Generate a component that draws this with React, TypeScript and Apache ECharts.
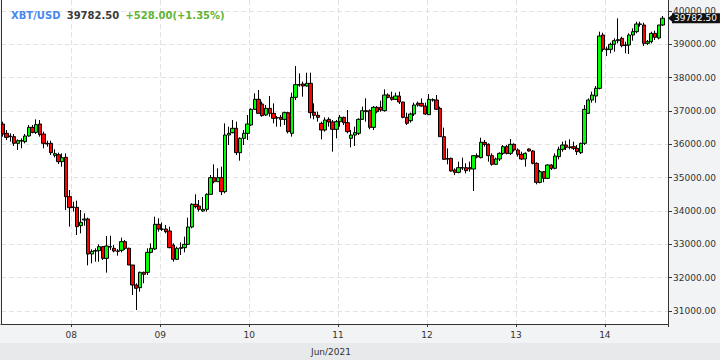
import React, { useEffect, useRef } from 'react';
import * as echarts from 'echarts';

// hourly candles starting 2021-06-07 05:00 (UTC)
const START_MS = Date.UTC(2021, 5, 7, 5);
const CATEGORY_COUNT = 180;

const opens = [
  36610, 36330, 36250, 36230, 36030, 36110, 36080, 36250, 36510, 36360,
  36610, 36310, 36030, 36030, 35670, 35690, 35480, 35610, 34430, 34120,
  34110, 33560, 33730, 33760, 32710, 32800, 32810, 32930, 32580, 32930,
  32880, 32800, 32820, 33080, 32880, 32380, 31780, 31700, 32160, 32160,
  32760, 32860, 33600, 33460, 33460, 33400, 32980, 32550, 32880, 32900,
  33000, 33520, 34200, 34150, 34000, 34050, 34500, 35000, 34880, 35000,
  34580, 36280, 36350, 36480, 35750, 36180, 36330, 36580, 37050, 37350,
  37210, 36880, 37080, 36930, 36790, 36810, 36750, 36950, 36330, 37410,
  37790, 37810, 37750, 37830, 36960, 36870, 36630, 36430, 36750, 36670,
  36450, 36680, 36810, 36650, 36180, 36280, 36330, 36750, 37010, 37010,
  36510, 37110, 37110, 37010, 37480, 37410, 37350, 37450, 37270, 36810,
  36710, 36910, 37230, 37230, 37150, 36890, 37330, 37330, 37080, 36230,
  35560, 35580, 35230, 35160, 35300, 35300, 35300, 35260, 35660, 35600,
  36060, 36000, 35660, 35400, 35560, 35730, 35930, 35730, 36000, 35830,
  35700, 35560, 35860, 35800, 35430, 34860, 35180, 34980, 35380, 35280,
  35630, 35850, 35980, 35910, 35930, 35880, 35750, 36030, 36930, 37330,
  37450, 37680, 39280, 38860, 38850, 39000, 39110, 39180, 38970, 38980,
  39280, 39380, 39610, 39580, 39030, 39080, 39330, 39190, 39580,
];
const closes = [
  36310, 36210, 36230, 36030, 36110, 36100, 36250, 36510, 36360, 36590,
  36290, 36030, 36010, 35750, 35720, 35480, 35600, 34430, 34100, 34110,
  33530, 33660, 33760, 32710, 32790, 32810, 32930, 32580, 32950, 32920,
  32800, 32790, 33080, 32880, 32380, 31780, 31680, 32160, 32100, 32760,
  32880, 33600, 33460, 33450, 33380, 32900, 32550, 32880, 32900, 33000,
  33520, 34200, 34130, 34050, 34050, 34500, 35000, 34880, 35000, 34580,
  36280, 36330, 36480, 35750, 36180, 36330, 36610, 37050, 37350, 36930,
  36860, 37080, 36930, 36780, 36800, 36750, 36950, 36380, 37410, 37790,
  37780, 37750, 37830, 36950, 36870, 36810, 36430, 36730, 36670, 36450,
  36680, 36810, 36650, 36380, 36280, 36350, 36750, 37010, 36980, 36510,
  37110, 36980, 37030, 37480, 37410, 37350, 37450, 37270, 36810, 36630,
  36910, 37180, 37180, 37150, 36910, 37350, 37340, 37050, 36230, 35550,
  35570, 35200, 35160, 35300, 35290, 35210, 35260, 35660, 35620, 36060,
  36000, 35660, 35400, 35560, 35730, 35930, 35730, 36000, 35830, 35700,
  35560, 35730, 35800, 35430, 34860, 35180, 34980, 35380, 35280, 35650,
  35850, 35980, 35910, 35920, 35880, 35780, 36030, 37050, 37330, 37480,
  37680, 39250, 38850, 38840, 39000, 39110, 39140, 38960, 38980, 39280,
  39380, 39610, 39600, 39030, 39080, 39330, 39210, 39580, 39782.5,
];
const lows = [
  36230, 36130, 36080, 35950, 35830, 35880, 36030, 36230, 36330, 36310,
  36230, 35880, 35930, 35680, 35610, 35410, 35330, 34030, 33530, 33980,
  33280, 33330, 33560, 32370, 32430, 32480, 32480, 32530, 32150, 32830,
  32760, 32660, 32760, 32830, 32380, 31480, 31030, 31580, 31830, 32080,
  32730, 32830, 33380, 33400, 33330, 32880, 32480, 32530, 32680, 32760,
  32980, 33480, 34080, 33980, 33980, 33980, 34500, 34830, 34880, 34480,
  34530, 35980, 36330, 35680, 35510, 35980, 36130, 36550, 37030, 36930,
  36830, 36850, 36830, 36630, 36530, 36530, 36580, 36330, 36230, 37330,
  37730, 37430, 37730, 36780, 36750, 36680, 36150, 36380, 36530, 35780,
  36180, 36530, 36580, 36330, 35910, 35950, 36280, 36730, 36680, 36450,
  36430, 36930, 36980, 36980, 37380, 37310, 37330, 37210, 36780, 36580,
  36650, 36850, 37130, 37130, 36880, 36880, 37280, 37030, 36230, 35530,
  35400, 35180, 35080, 35130, 35230, 35130, 35180, 34600, 35580, 35580,
  35930, 35480, 35360, 35380, 35500, 35680, 35700, 35680, 35780, 35630,
  35530, 35330, 35780, 35400, 34800, 34830, 34860, 34960, 35230, 35250,
  35550, 35780, 35830, 35850, 35830, 35680, 35710, 35980, 36910, 37250,
  37250, 37650, 38780, 38650, 38730, 38780, 39030, 38910, 38730, 38710,
  39110, 39330, 39530, 38950, 38980, 39030, 39130, 39150, 39550,
];
const highs = [
  36680, 36430, 36330, 36310, 36150, 36180, 36310, 36580, 36580, 36750,
  36730, 36380, 36110, 36110, 35850, 35750, 35730, 35730, 34630, 34280,
  34310, 34030, 33930, 33800, 32850, 32880, 33000, 32950, 33250, 33260,
  32980, 32860, 33200, 33130, 32900, 32380, 31830, 32180, 32180, 32880,
  33030, 33830, 33780, 33660, 33580, 33530, 33030, 32930, 33060, 33230,
  33800, 34230, 34500, 34330, 34420, 34530, 35080, 35400, 35280, 35330,
  36630, 36530, 36730, 36680, 36210, 36430, 36880, 37080, 37530, 37630,
  37280, 37180, 37450, 37230, 36850, 36880, 36980, 36980, 37550, 38350,
  38130, 37880, 38150, 38150, 37230, 36980, 36680, 36810, 36810, 36730,
  36730, 36880, 36830, 37030, 36430, 36530, 36780, 37130, 37380, 37050,
  37150, 37150, 37310, 37650, 37530, 37580, 37550, 37580, 37280, 36950,
  36950, 37250, 37280, 37380, 37250, 37510, 37380, 37480, 37130, 36500,
  35880, 35600, 35280, 35480, 35600, 35430, 35480, 35680, 35730, 36200,
  36130, 36030, 35730, 35600, 35760, 35980, 35980, 36160, 36030, 35880,
  35780, 35760, 35880, 35830, 35460, 35230, 35200, 35400, 35400, 35730,
  35930, 36080, 36110, 36150, 36080, 35980, 36050, 37180, 37380, 37580,
  37750, 39380, 39350, 38930, 39050, 39180, 39780, 39230, 39080, 39330,
  39480, 39680, 39680, 39650, 39130, 39380, 39410, 39580, 39850,
];

const SYMBOL = 'XBT/USD';
const LAST_PRICE = '39782.50';
const CHANGE_TEXT = '+528.00(+1.35%)';
const MONTH_LABEL = 'Jun/2021';

const Y_MIN = 30610;
const Y_MAX = 40330;

const pad2 = (n: number) => (n < 10 ? '0' + n : '' + n);
const categories = Array.from({ length: CATEGORY_COUNT }, (_, i) => {
  const d = new Date(START_MS + i * 3600000);
  return `${pad2(d.getUTCDate())} ${pad2(d.getUTCHours())}:00`;
});
const isMidnight = (idx: number) => !!categories[idx] && categories[idx].endsWith(' 00:00');

const FONT = 'DejaVu Sans';

export default function App() {
  const ref = useRef<HTMLDivElement>(null);
  useEffect(() => {
    if (!ref.current) return;
    const chart = echarts.init(ref.current, undefined, { renderer: 'svg' });
    const candles = opens.map((o, i) => [o, closes[i], lows[i], highs[i]]);
    const lastClose = closes[closes.length - 1];
    chart.setOption({
      animation: false,
      backgroundColor: '#f2f3f5',
      textStyle: { fontFamily: FONT },
      title: {
        left: 11,
        top: 6,
        padding: 0,
        text: `{a|${SYMBOL}} {b|${LAST_PRICE}} {c|${CHANGE_TEXT}}`,
        textStyle: {
          rich: {
            a: { color: '#4a88ee', fontSize: 10, fontWeight: 'bold', fontFamily: FONT },
            b: { color: '#3a3a3a', fontSize: 10, fontWeight: 'bold', fontFamily: FONT },
            c: { color: '#5fb336', fontSize: 10, fontWeight: 'bold', fontFamily: FONT },
          },
        },
      },
      grid: {
        left: 1,
        right: 52,
        top: 0,
        bottom: 36,
        show: true,
        backgroundColor: '#ffffff',
        borderWidth: 0,
      },
      graphic: [
        {
          type: 'rect',
          left: 0,
          top: 343,
          shape: { width: 720, height: 17 },
          style: { fill: '#e8e9eb' },
          silent: true,
        },
        {
          type: 'text',
          x: 331,
          y: 352,
          style: {
            text: MONTH_LABEL,
            font: `9px "${FONT}"`,
            fill: '#333',
            textAlign: 'center',
            textVerticalAlign: 'middle',
          },
          silent: true,
        },
      ],
      xAxis: {
        type: 'category',
        data: categories,
        boundaryGap: true,
        axisLine: { show: true, lineStyle: { color: '#333', width: 1 } },
        axisTick: {
          show: true,
          interval: (i: number) => isMidnight(i),
          length: 3,
          lineStyle: { color: '#333' },
        },
        axisLabel: {
          interval: (i: number) => isMidnight(i),
          formatter: (v: string) => v.slice(0, 2),
          color: '#333',
          fontSize: 9,
          fontFamily: FONT,
          margin: 6,
          padding: [0, 4, 0, 0],
        },
        splitLine: {
          show: true,
          interval: (i: number) => isMidnight(i),
          lineStyle: { color: '#e2e2e2', type: [5, 3], width: 1 },
        },
      },
      yAxis: [
        {
          type: 'value',
          position: 'right',
          min: Y_MIN,
          max: Y_MAX,
          splitNumber: 9,
          minInterval: 1000,
          maxInterval: 1000,
          axisLine: { show: true, lineStyle: { color: '#333', width: 1 } },
          axisTick: { show: true, length: 4, lineStyle: { color: '#333' } },
          axisLabel: {
            formatter: (v: number) => v.toFixed(2),
            color: '#333',
            fontSize: 9,
            fontFamily: FONT,
            margin: 5,
            showMinLabel: false,
            showMaxLabel: false,
          },
          splitLine: {
            show: true,
            showMinLine: false,
            showMaxLine: false,
            lineStyle: { color: '#e2e2e2', type: [5, 3], width: 1 },
          },
        },
        {
          type: 'value',
          position: 'left',
          min: Y_MIN,
          max: Y_MAX,
          axisLine: { show: true, lineStyle: { color: '#333', width: 1 } },
          axisTick: { show: false },
          axisLabel: { show: false },
          splitLine: { show: false },
        },
      ],
      series: [
        {
          type: 'candlestick',
          data: candles,
          barWidth: 3.8,
          clip: false,
          z: 5,
          itemStyle: {
            color: '#00ff00',
            color0: '#ff0000',
            borderColor: '#000',
            borderColor0: '#000',
            borderColorDoji: '#000',
            borderWidth: 1,
          },
          markLine: {
            silent: true,
            z: 10,
            symbol: ['none', 'triangle'],
            symbolSize: [10, 6],
            symbolRotate: [0, 90],
            symbolOffset: [0, [0, 3]],
            lineStyle: { color: '#111', width: 0, opacity: 1, type: 'solid' },
            data: [{ yAxis: lastClose }],
            label: {
              show: true,
              position: 'end',
              distance: 4,
              formatter: (p: any) => Number(p.value).toFixed(2),
              backgroundColor: '#111',
              color: '#fff',
              opacity: 1,
              fontSize: 9,
              fontFamily: FONT,
              lineHeight: 10,
              padding: [0, 3, 0, 2],
            },
          },
        },
      ],
    });
    return () => chart.dispose();
  }, []);
  return (
    <div
      ref={ref}
      style={{ position: 'fixed', left: 0, top: 0, width: 720, height: 360 }}
    />
  );
}
